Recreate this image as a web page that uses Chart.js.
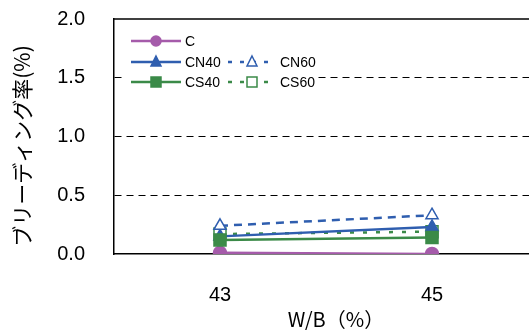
<!DOCTYPE html>
<html>
<head>
<meta charset="utf-8">
<script src="https://cdn.jsdelivr.net/npm/chart.js@4"></script>
<style>
  html, body { margin: 0; padding: 0; background: #fff; overflow: hidden; }
  #wrap { width: 560px; height: 330px; }
</style>
</head>
<body>
<div id="wrap"><canvas id="chart" width="560" height="330"></canvas></div>
<script>
// data
var categories = ['43', '45'];
var yTicks = [0, 0.5, 1.0, 1.5, 2.0];
var valC = [0.01, 0.0];
var valCN40 = [0.15, 0.23];
var valCN60 = [0.24, 0.33];
var valCS40 = [0.12, 0.14];
var valCS60 = [0.17, 0.19];

var purple = '#A55BAA';
var blue = '#2F5EAF';
var green = '#3B8A48';
var numFont = '"Liberation Sans", Arial, sans-serif';
var jpFont = '"Noto Sans CJK JP", sans-serif';

// extra drawing: top border, axis titles, legend box
var extras = {
  id: 'extras',
  afterDraw: function (chart) {
    var ctx = chart.ctx;
    var a = chart.chartArea;
    ctx.save();
    ctx.strokeStyle = '#000';
    ctx.lineWidth = 1.5;
    ctx.beginPath();
    ctx.moveTo(a.left, a.top);
    ctx.lineTo(a.right, a.top);
    ctx.stroke();

    // axis titles
    ctx.fillStyle = '#000';
    ctx.textAlign = 'center';
    ctx.textBaseline = 'middle';
    ctx.font = '20px ' + jpFont;
    ctx.fillText('W/B（%）', 336, 319);
    ctx.save();
    ctx.translate(22, 146);
    ctx.rotate(-Math.PI / 2);
    ctx.font = '21px ' + jpFont;
    ctx.fillText('ブリーディング率(%)', 0, 0);
    ctx.restore();

    // legend (white box hides the grid behind it)
    ctx.fillStyle = '#fff';
    ctx.fillRect(125, 29, 192, 64);
    var items = [
      { i: 0, x: 131, y: 41, len: 50 },
      { i: 1, x: 131, y: 62, len: 50 },
      { i: 2, x: 228, y: 62, len: 48 },
      { i: 3, x: 131, y: 82, len: 50 },
      { i: 4, x: 228, y: 82, len: 48 }
    ];
    items.forEach(function (it) {
      var ds = chart.data.datasets[it.i];
      ctx.save();
      ctx.strokeStyle = ds.borderColor;
      ctx.lineWidth = 2.5;
      ctx.setLineDash(ds.borderDash ? [4, 8] : []);
      ctx.beginPath();
      ctx.moveTo(it.x, it.y);
      ctx.lineTo(it.x + it.len, it.y);
      ctx.stroke();
      ctx.setLineDash([]);
      var cx = it.x + it.len / 2, cy = it.y, r = 5;
      ctx.fillStyle = ds.pointBackgroundColor;
      ctx.strokeStyle = ds.pointBorderColor;
      ctx.lineWidth = 1.5;
      ctx.beginPath();
      if (ds.pointStyle === 'circle') {
        ctx.arc(cx, cy, r, 0, Math.PI * 2);
      } else if (ds.pointStyle === 'triangle') {
        ctx.moveTo(cx, cy - r - 1);
        ctx.lineTo(cx + r, cy + r - 1);
        ctx.lineTo(cx - r, cy + r - 1);
        ctx.closePath();
      } else {
        ctx.rect(cx - r, cy - r, 2 * r, 2 * r);
      }
      ctx.fill();
      ctx.stroke();
      ctx.fillStyle = '#000';
      ctx.font = '14px ' + numFont;
      ctx.textAlign = 'left';
      ctx.textBaseline = 'middle';
      ctx.fillText(ds.label, it.x + it.len + 4, it.y + 1);
      ctx.restore();
    });
    ctx.restore();
  }
};

new Chart(document.getElementById('chart').getContext('2d'), {
  type: 'line',
  data: {
    labels: categories,
    datasets: [
      { label: 'C', data: valC, borderColor: purple, pointStyle: 'circle', pointRadius: 6.5,
        pointBackgroundColor: purple, pointBorderColor: purple, order: 5 },
      { label: 'CN40', data: valCN40, borderColor: blue, pointStyle: 'triangle', pointRadius: 7,
        pointBackgroundColor: blue, pointBorderColor: blue, order: 3 },
      { label: 'CN60', data: valCN60, borderColor: blue, borderDash: [8, 6], pointStyle: 'triangle', pointRadius: 7,
        pointBackgroundColor: '#fff', pointBorderColor: blue, order: 1 },
      { label: 'CS40', data: valCS40, borderColor: green, pointStyle: 'rect', pointRadius: 8.5,
        pointBackgroundColor: green, pointBorderColor: green, order: 2 },
      { label: 'CS60', data: valCS60, borderColor: green, borderDash: [4, 9], pointStyle: 'rect', pointRadius: 8.5,
        pointBackgroundColor: '#fff', pointBorderColor: green, order: 4 }
    ]
  },
  options: {
    responsive: false,
    animation: false,
    devicePixelRatio: 1,
    layout: { padding: { top: 19, right: 22, left: 0, bottom: 0 } },
    elements: {
      line: { borderWidth: 2.5, tension: 0 },
      point: { borderWidth: 1.5 }
    },
    plugins: {
      legend: { display: false },
      tooltip: { enabled: false }
    },
    scales: {
      x: {
        type: 'category',
        offset: true,
        grid: { display: false, drawTicks: false },
        border: { display: true, color: '#000', width: 1.5 },
        ticks: { color: '#000', padding: 29, font: { size: 20, family: numFont } },
        afterFit: function (s) { s.height = 76; }
      },
      y: {
        min: 0,
        max: 2,
        afterBuildTicks: function (s) { s.ticks = yTicks.map(function (v) { return { value: v }; }); },
        grid: {
          drawTicks: true,
          tickLength: 29,
          tickColor: 'rgba(0,0,0,0)',
          lineWidth: 1,
          color: function (c) {
            var v = c.tick ? c.tick.value : 0;
            return (v === 0 || v === 2) ? 'rgba(0,0,0,0)' : '#000';
          }
        },
        border: { display: true, color: '#000', width: 1.5, dash: [7, 5] },
        ticks: {
          color: '#000',
          padding: 0,
          font: { size: 20, family: numFont },
          callback: function (v) { return Number(v).toFixed(1); }
        },
        afterFit: function (s) { s.width = 114; }
      }
    }
  },
  plugins: [extras]
});
</script>
</body>
</html>
